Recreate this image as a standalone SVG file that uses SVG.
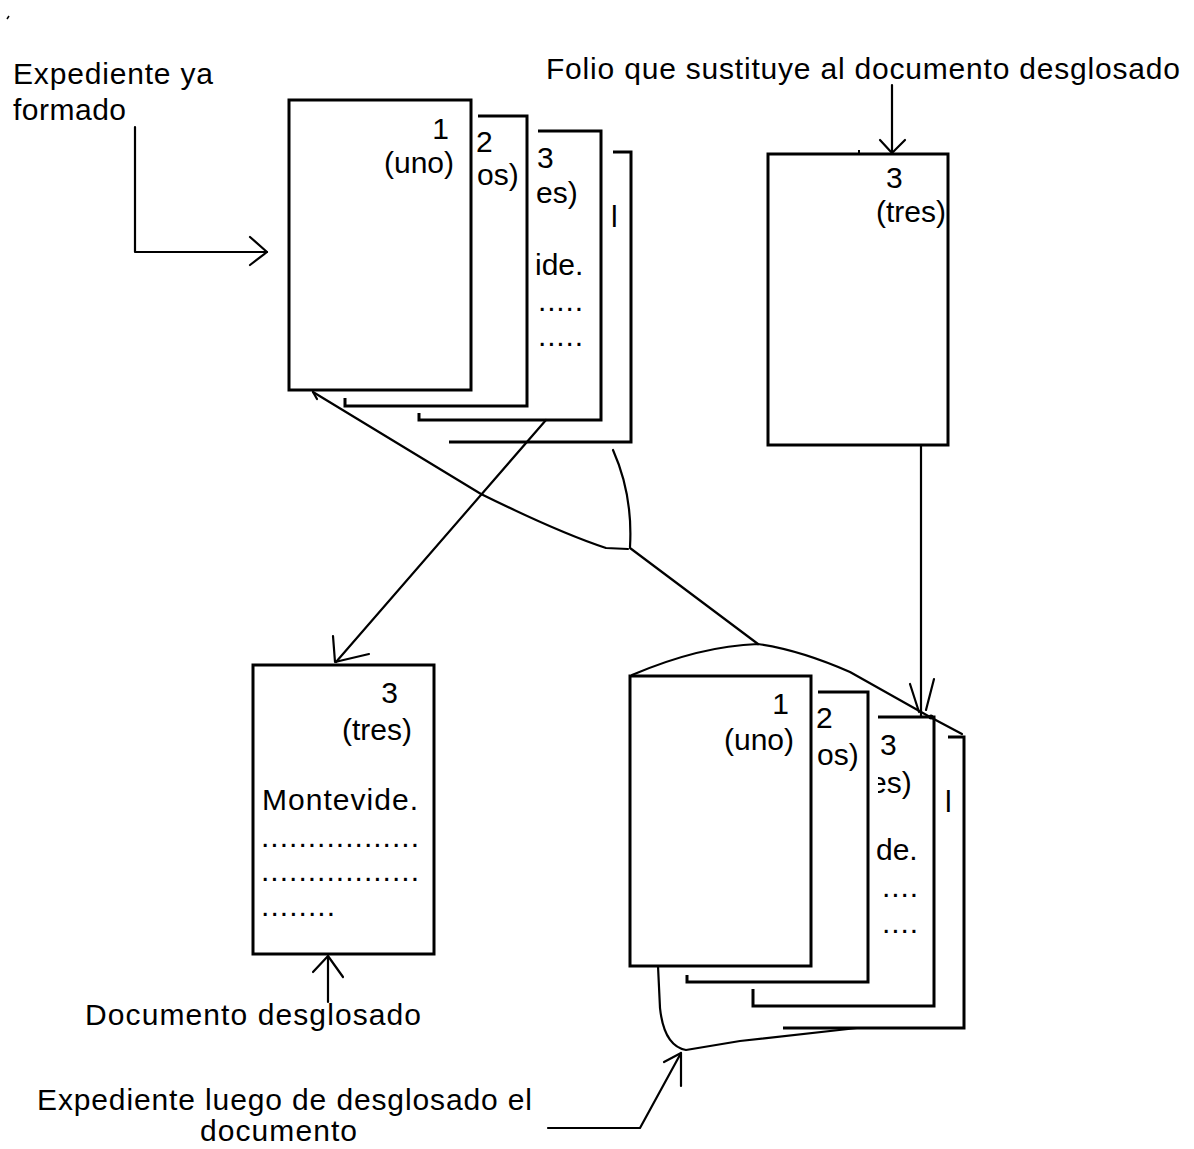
<svg xmlns="http://www.w3.org/2000/svg" width="1194" height="1149" viewBox="0 0 1194 1149">
<style>
.pg{fill:none;stroke:#000;stroke-width:3;stroke-linejoin:miter}
.cn{fill:none;stroke:#000;stroke-width:2.2;stroke-linejoin:round;stroke-linecap:round}
text{font-family:"Liberation Sans",Arial,sans-serif;font-size:30px;fill:#000}
.e{text-anchor:end}
</style>
<defs>
<clipPath id="clipEs"><rect x="878" y="760" width="50" height="45"/></clipPath>
</defs>
<rect x="0" y="0" width="1194" height="1149" fill="#fff"/>
<line x1="7" y1="19" x2="9" y2="16" stroke="#000" stroke-width="1.5"/>

<g id="label-expediente">
<text x="13" y="84" textLength="200" lengthAdjust="spacing">Expediente ya</text>
<text x="13" y="120" textLength="113" lengthAdjust="spacing">formado</text>
</g>

<g id="label-folio">
<text x="546" y="79" textLength="634" lengthAdjust="spacing">Folio que sustituye al documento desglosado</text>
</g>

<g id="stack-top">
<path class="pg" d="M613,152 H631 V442 H449"/>
<path class="pg" d="M538,131 H601 V420 H419 V413"/>
<path class="pg" d="M478,116 H527 V406 H345 V398"/>
<rect class="pg" x="289" y="100" width="182" height="290"/>
<text class="e" x="449" y="139">1</text>
<text class="e" x="454" y="173">(uno)</text>
<text x="476" y="152">2</text>
<text x="477" y="185">os)</text>
<text x="537" y="168">3</text>
<text x="536" y="203">es)</text>
<text x="611" y="227">l</text>
<text x="535" y="275">ide.</text>
<text x="538" y="311" textLength="45" lengthAdjust="spacing">.....</text>
<text x="538" y="346" textLength="45" lengthAdjust="spacing">.....</text>
</g>

<g id="folio">
<rect class="pg" x="768" y="154" width="180" height="291"/>
<line x1="859" y1="150" x2="859" y2="154" stroke="#000" stroke-width="2"/>
<text x="886" y="188">3</text>
<text x="876" y="222">(tres)</text>
</g>

<g id="doc-desglosado">
<rect class="pg" x="253" y="665" width="181" height="289"/>
<text class="e" x="398" y="703">3</text>
<text x="342" y="740">(tres)</text>
<text x="262" y="810" textLength="156" lengthAdjust="spacing">Montevide.</text>
<text x="261" y="847" textLength="158" lengthAdjust="spacing">.................</text>
<text x="261" y="881" textLength="158" lengthAdjust="spacing">.................</text>
<text x="261" y="916" textLength="74" lengthAdjust="spacing">........</text>
</g>

<g id="label-documento">
<text x="85" y="1025" textLength="336" lengthAdjust="spacing">Documento desglosado</text>
</g>

<g id="stack-bottom">
<path class="pg" d="M948,737 H964 V1028 H783"/>
<path class="pg" d="M878,717 H934 V1006 H753 V989"/>
<path class="pg" d="M818,692 H868 V982 H687 V975"/>
<rect class="pg" x="630" y="676" width="181" height="290"/>
<text class="e" x="789" y="714">1</text>
<text class="e" x="794" y="750">(uno)</text>
<text x="816" y="728">2</text>
<text x="817" y="765">os)</text>
<text x="880" y="755">3</text>
<text x="870" y="793" clip-path="url(#clipEs)">es)</text>
<text x="945" y="812">l</text>
<text x="876" y="860">de.</text>
<text x="882" y="897" textLength="36" lengthAdjust="spacing">....</text>
<text x="882" y="933" textLength="36" lengthAdjust="spacing">....</text>
</g>

<g id="label-expediente-luego">
<text x="37" y="1110" textLength="495" lengthAdjust="spacing">Expediente luego de desglosado el</text>
<text x="200" y="1141" textLength="157" lengthAdjust="spacing">documento</text>
</g>

<g id="connectors">
<path class="cn" d="M135,127 V252 H267"/>
<path class="cn" d="M250,237 L267,252 L250,265"/>
<path class="cn" d="M892,85 V153"/>
<path class="cn" d="M880,140 L892,153 L905,140"/>
<path class="cn" d="M546,420 L336,662"/>
<path class="cn" d="M333,636 L335,662 L369,654"/>
<path class="cn" d="M328,1002 V956"/>
<path class="cn" d="M313,972 L328,956 L343,977"/>
<path class="cn" d="M921,445 V717"/>
<path class="cn" d="M910,684 L919,712"/>
<path class="cn" d="M934,679 L926,710"/>
<path class="cn" d="M313,392 L481,494 Q560,533 606,548 L628,549"/>
<path class="cn" d="M313,392 L317,399"/>
<path class="cn" d="M613,450 Q633,495 630,547"/>
<path class="cn" d="M630,548 L758,644"/>
<path class="cn" d="M632,675 Q700,646 758,644 Q800,650 850,672 L930,717 L962,734"/>
<circle cx="931" cy="717" r="2.5" fill="#000"/>
<path class="cn" d="M658,966 L660,1008 Q664,1046 686,1050 L740,1041 L857,1028"/>
<path class="cn" d="M548,1128 H640 L681,1053"/>
<path class="cn" d="M664,1062 L681,1053 L681,1086"/>
</g>
</svg>
